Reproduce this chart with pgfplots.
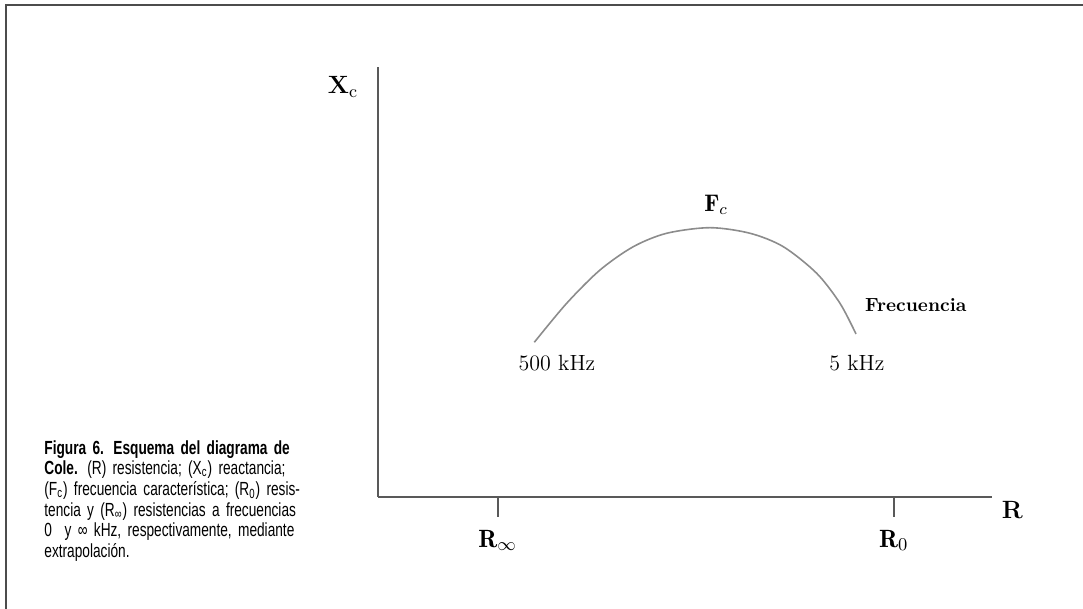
\documentclass[border=0pt]{standalone}
\usepackage{fontspec}
\usepackage{pgfplots}
\pgfplotsset{compat=1.18}
\newfontfamily\capfont[FakeStretch=0.72]{Liberation Sans}

\begin{document}
\begin{tikzpicture}[x=1pt,y=1pt]
\path[use as bounding box] (0,0) rectangle (541.5,304.5);
% frame, only its top and left edges are inside the picture
\draw[color=black!70, line width=1pt] (3,0) -- (3,302) -- (541.5,302);

\begin{axis}[
  at={(189pt,56pt)}, anchor=south west,
  width=307pt, height=215pt, scale only axis,
  xmin=0, xmax=100, ymin=0, ymax=100,
  axis lines=left,
  axis line style={-, black!65, line width=0.8pt},
  ytick=\empty,
  xtick={19.5,84},
  xticklabels={$\mathbf{R}_\infty$, $\mathbf{R}_0$},
  tick align=outside, major tick length=10pt,
  tick style={black!65, line width=0.8pt},
  xticklabel style={font=\fontsize{12.5}{14}\selectfont, yshift=-3pt},
  xlabel={\textbf{R}},
  every axis x label/.style={at={(rel axis cs:1.033,-0.03)}, anchor=center,
    font=\fontsize{12.5}{14}\selectfont},
  ylabel={\textbf{X}\textsubscript{c}},
  every axis y label/.style={at={(rel axis cs:-0.057,0.953)}, anchor=center,
    font=\fontsize{12.5}{14}\selectfont},
  clip=false,
]
\addplot[smooth, color=black!45, line width=0.8pt] coordinates {
  (25.46,35.98)
  (30.73,45.05)
  (36.16,52.79)
  (41.58,58.21)
  (47.02,61.33)
  (54.07,62.63)
  (60.59,61.33)
  (66.01,58.21)
  (71.45,52.02)
  (75.24,45.05)
  (77.85,37.91)
};
\node[font=\fontsize{12}{14}\selectfont] at (axis cs:55.05,67.9) {$\mathbf{F}_c$};
\node[font=\bfseries\fontsize{9.5}{11}\selectfont] at (axis cs:87.6,44.65) {Frecuencia};
\node[font=\fontsize{11}{13}\selectfont] at (axis cs:29.15,31.16) {500 kHz};
\node[font=\fontsize{11}{13}\selectfont] at (axis cs:78.0,31.16) {5 kHz};
\end{axis}

% caption
\node[anchor=north west, inner sep=0pt, text width=139.5pt,
  font=\capfont\fontsize{9.5}{10.35}\selectfont] at (22,84.5) {%
  \makebox[\linewidth][s]{\textbf{Figura 6. Esquema del diagrama de}}\\
  \makebox[\linewidth][s]{\textbf{Cole.} (R) resistencia; (X\textsubscript{c}) reactancia;}\\
  \makebox[\linewidth][s]{(F\textsubscript{c}) frecuencia característica; (R\textsubscript{0}) resis-}\\
  \makebox[\linewidth][s]{tencia y (R\textsubscript{∞}) resistencias a frecuencias}\\
  \makebox[\linewidth][s]{0 \ y ∞ kHz, respectivamente, mediante}\\
  extrapolación.};
\end{tikzpicture}
\end{document}
